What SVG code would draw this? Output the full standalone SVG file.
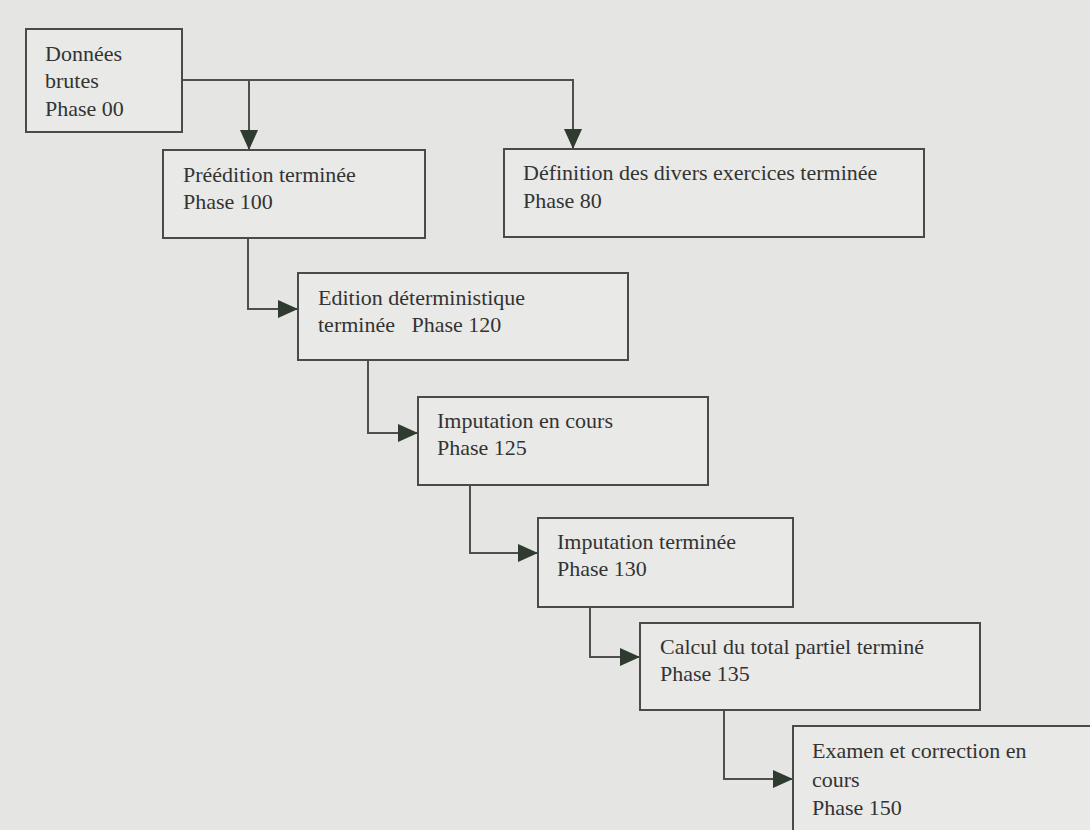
<svg xmlns="http://www.w3.org/2000/svg" width="1090" height="830" viewBox="0 0 1090 830">
<defs>
<style>
.box{fill:#e9e9e7;stroke:#4a4a4a;stroke-width:2}
.t{font-family:"Liberation Serif","Times New Roman",serif;font-size:22px;fill:#333}
.c{fill:none;stroke:#4f4f4f;stroke-width:2}
</style>
<marker id="ah" markerUnits="userSpaceOnUse" markerWidth="22" markerHeight="20" refX="20" refY="9" orient="auto">
<path d="M0,0 L20,9 L0,18 Z" fill="#2e3b2e"/>
</marker>
</defs>
<rect width="1090" height="830" fill="#e5e5e3"/>
<g id="connectors">
<path class="c" d="M182,80 H573 V149" marker-end="url(#ah)"/>
<path class="c" d="M249,80 V150" marker-end="url(#ah)"/>
<path class="c" d="M248,238 V309 H298" marker-end="url(#ah)"/>
<path class="c" d="M368,360 V433 H418" marker-end="url(#ah)"/>
<path class="c" d="M470,485 V553 H538" marker-end="url(#ah)"/>
<path class="c" d="M590,607 V657 H640" marker-end="url(#ah)"/>
<path class="c" d="M724,710 V779 H793" marker-end="url(#ah)"/>
</g>
<g id="n00">
<rect class="box" x="26" y="29" width="156" height="103"/>
<text class="t" x="45" y="61">Données</text>
<text class="t" x="45" y="88">brutes</text>
<text class="t" x="45" y="116">Phase 00</text>
</g>
<g id="n100">
<rect class="box" x="163" y="150" width="262" height="88"/>
<text class="t" x="183" y="182">Préédition terminée</text>
<text class="t" x="183" y="209">Phase 100</text>
</g>
<g id="n80">
<rect class="box" x="504" y="149" width="420" height="88"/>
<text class="t" x="523" y="180">Définition des divers exercices terminée</text>
<text class="t" x="523" y="208">Phase 80</text>
</g>
<g id="n120">
<rect class="box" x="298" y="273" width="330" height="87"/>
<text class="t" x="318" y="305">Edition déterministique</text>
<text class="t" x="318" y="332" xml:space="preserve">terminée   Phase 120</text>
</g>
<g id="n125">
<rect class="box" x="418" y="397" width="290" height="88"/>
<text class="t" x="437" y="428">Imputation en cours</text>
<text class="t" x="437" y="455">Phase 125</text>
</g>
<g id="n130">
<rect class="box" x="538" y="518" width="255" height="89"/>
<text class="t" x="557" y="549">Imputation terminée</text>
<text class="t" x="557" y="576">Phase 130</text>
</g>
<g id="n135">
<rect class="box" x="640" y="623" width="340" height="87"/>
<text class="t" x="660" y="654">Calcul du total partiel terminé</text>
<text class="t" x="660" y="681">Phase 135</text>
</g>
<g id="n150">
<rect class="box" x="793" y="726" width="310" height="120"/>
<text class="t" x="812" y="758">Examen et correction en</text>
<text class="t" x="812" y="787">cours</text>
<text class="t" x="812" y="815">Phase 150</text>
</g>
</svg>
